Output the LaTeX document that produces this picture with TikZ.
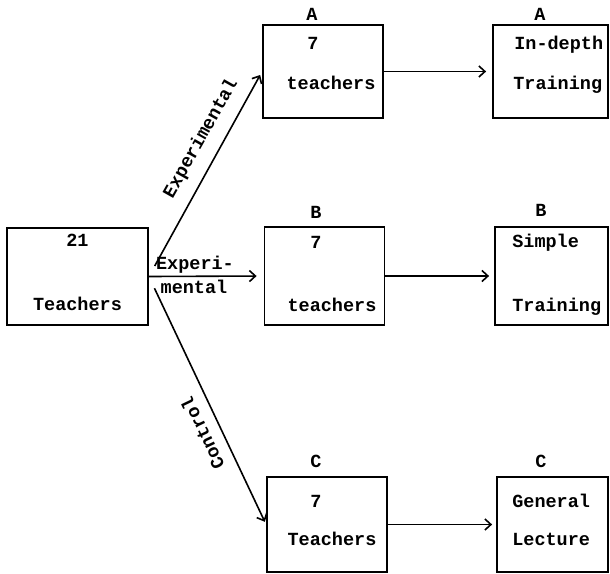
\documentclass[tikz,border=0pt]{standalone}
\usepackage{fontspec}
\setmonofont{Liberation Mono}
\usetikzlibrary{arrows.meta,calc}

\tikzset{
  box/.style={draw, line width=1.8pt, inner sep=0pt},
  txt/.style={font=\ttfamily\bfseries\fontsize{18.5}{20}\selectfont,
    inner sep=1pt, text height=12pt, text depth=0pt},
  arr/.style={-{Straight Barb[length=6pt,width=11pt]}, line width=1.6pt},
}

\begin{document}
\begin{tikzpicture}[x=1pt,y=-1pt]
\useasboundingbox (0,0) rectangle (610,573);
% group-width & group-height
\newcommand{\grpwd}{120}
\newcommand{\grpht}{95}
% treatment-width & treatment-height
\newcommand{\trwd}{115}
\newcommand{\trht}{95}

% All Teachers
\node[box, minimum width=141pt, minimum height=97pt] (teach) at (77.5,276.5) {};
\node[txt] (teachnum) at ($(teach.north)+(0,13)$) {21};
\node[txt] (teachtxt) at ($(teach.north)+(0,77)$) {Teachers};

% Groups
\node[box, minimum width=\grpwd pt, minimum height=93pt] (grpA) at (323,71.5) {};
\node[txt] (grpAlbl) at ($(grpA.north)+(-11,-10)$) {A};
\node[txt] (grpAnum) at ($(grpA.north)+(-10,19)$) {7};
\node[txt] (grpAtxt) at ($(grpA.north)+(8,59)$) {teachers};

\node[box, minimum width=\grpwd pt, minimum height=98pt] (grpB) at (324.5,276) {};
\node[txt] (grpBlbl) at ($(grpB.north)+(-8.5,-14)$) {B};
\node[txt] (grpBnum) at ($(grpB.north)+(-8.5,16)$) {7};
\node[txt] (grpBtxt) at ($(grpB.north)+(7.5,79)$) {teachers};

\node[box, minimum width=\grpwd pt, minimum height=\grpht pt] (grpC) at (327,524.5) {};
\node[txt] (grpClbl) at ($(grpC.north)+(-11,-15)$) {C};
\node[txt] (grpCnum) at ($(grpC.north)+(-11,25)$) {7};
\node[txt] (grpCtxt) at ($(grpC.north)+(5,63)$) {Teachers};

% Treatments
\node[box, minimum width=\trwd pt, minimum height=93pt] (trA) at (550.5,71.5) {};
\node[txt] (trAlbl) at ($(trA.north)+(-10.5,-10)$) {A};
\node[txt, anchor=west] (trAtop) at ($(trA.north west)+(21,19)$) {In-depth};
\node[txt, anchor=west] (trAbot) at ($(trA.north west)+(20,59)$) {Training};

\node[box, minimum width=113pt, minimum height=98pt] (trB) at (551.5,276) {};
\node[txt] (trBlbl) at ($(trB.north)+(-10.5,-16)$) {B};
\node[txt, anchor=west] (trBtop) at ($(trB.north west)+(17,15)$) {Simple};
\node[txt, anchor=west] (trBbot) at ($(trB.north west)+(17,79)$) {Training};

\node[box, minimum width=111pt, minimum height=\trht pt] (trC) at (552.5,524.5) {};
\node[txt] (trClbl) at ($(trC.north)+(-11.5,-15)$) {C};
\node[txt, anchor=west] (trCtop) at ($(trC.north west)+(15,25)$) {General};
\node[txt, anchor=west] (trCbot) at ($(trC.north west)+(15,63)$) {Lecture};

% Assignment arrows
\draw[arr, shorten <=12pt, shorten >=4pt] (teach.east) -- (grpA.west);
\node[txt, rotate=60.7] (expA) at (200,138) {Experimental};
\draw[arr, shorten >=7pt] (teach.east) -- (grpB.west);
\node[txt] (expB1) at (195,263) {Experi-};
\node[txt] (expB2) at (194,287) {mental};
\draw[arr, shorten <=13pt, shorten >=3pt] (teach.east) -- (grpC.west);
\node[txt, rotate=115.6] (ctrl) at (203,433) {Control};

% Treatment arrows
\draw[arr, shorten >=6pt] (grpA.east) -- (trA.west);
\draw[arr, shorten >=5pt] (grpB.east) -- (trB.west);
\draw[arr, shorten >=4pt] (grpC.east) -- (trC.west);
\end{tikzpicture}
\end{document}
